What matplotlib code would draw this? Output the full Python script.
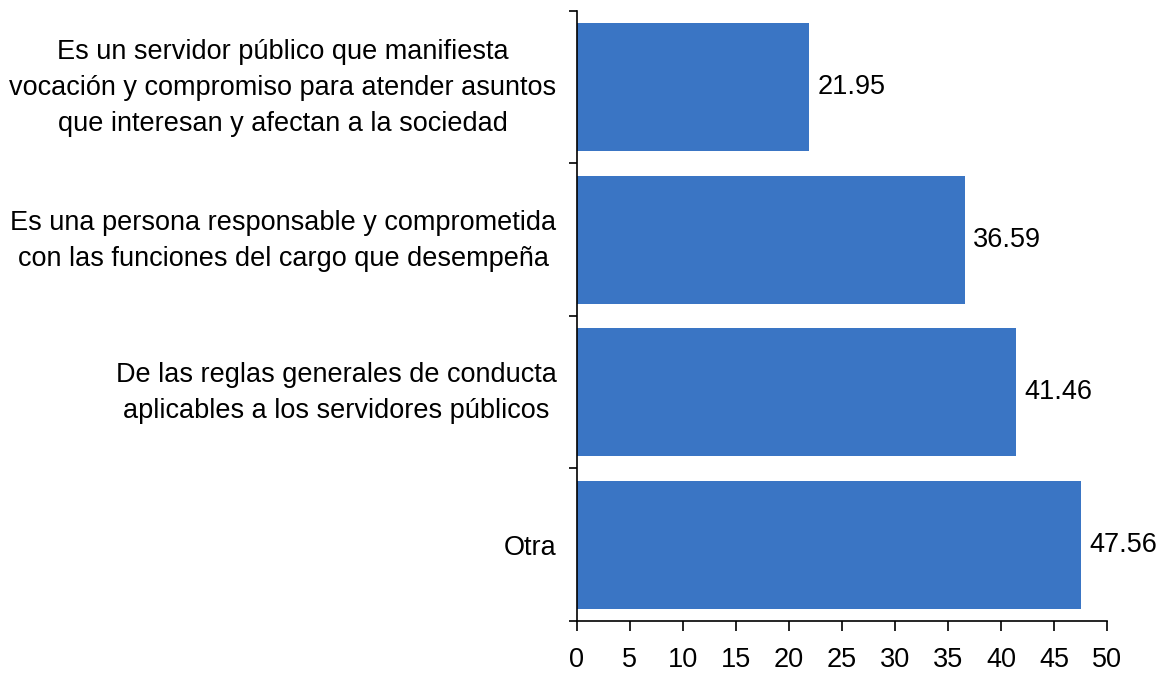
import matplotlib
matplotlib.use("Agg")
import matplotlib.pyplot as plt
import matplotlib.transforms as mtransforms
import numpy as np

categories = [
    "Es un servidor público que manifiesta\nvocación y compromiso para atender asuntos\nque interesan y afectan a la sociedad",
    "Es una persona responsable y comprometida\ncon las funciones del cargo que desempeña",
    "De las reglas generales de conducta\naplicables a los servidores públicos",
    "Otra",
]
values = [21.95, 36.59, 41.46, 47.56]
xticks = [0, 5, 10, 15, 20, 25, 30, 35, 40, 45, 50]

plt.rcParams['font.family'] = ['Liberation Sans', 'DejaVu Sans']

fig = plt.figure(figsize=(11.64, 6.73), dpi=100)
ax = fig.add_axes([0.4953, 0.0773, 0.951 - 0.4953, 0.9837 - 0.0773])

y = np.arange(len(categories))
ax.barh(y, values, height=0.84, color='#3A75C4')
ax.set_ylim(len(categories) - 0.5, -0.5)
ax.set_xlim(0, 50)

for yi, v in zip(y, values):
    ax.text(v + 0.8, yi, f"{v:.2f}", va='center', ha='left', fontsize=19.5, color='black')

ax.set_xticks(xticks)
ax.set_xticklabels([str(t) for t in xticks], fontsize=19.5)
ax.tick_params(axis='x', direction='out', length=7, width=1.2, pad=12)

ax.set_yticks(np.arange(len(categories) + 1) - 0.5)
ax.set_yticklabels([])
ax.tick_params(axis='y', which='major', direction='out', length=6, width=1.2)

blend = mtransforms.blended_transform_factory(ax.transAxes, ax.transData)
for yi, lab in zip(y, categories):
    multi = '\n' in lab
    dy = -1 / 100 if multi else 0
    tr = blend + mtransforms.ScaledTranslation(-20 / 100, dy, fig.dpi_scale_trans)
    ax.text(0, yi, lab, transform=tr, ha='right',
            va='center' if multi else 'center_baseline', multialignment='center',
            fontsize=19.5, linespacing=1.5, color='black')

for s in ['top', 'right']:
    ax.spines[s].set_visible(False)
for s in ['left', 'bottom']:
    ax.spines[s].set_linewidth(1.2)

fig.savefig("out.png", dpi=100)
